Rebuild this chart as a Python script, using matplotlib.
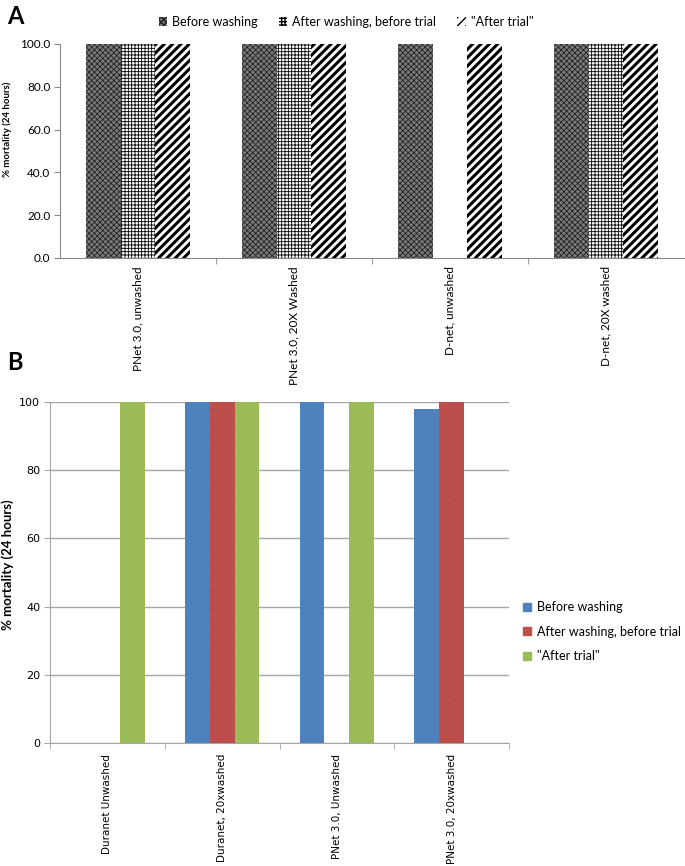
import matplotlib
matplotlib.use("Agg")
import matplotlib.pyplot as plt
import numpy as np

# panel A data
cats_a = ["PNet 3.0, unwashed", "PNet 3.0, 20X Washed", "D-net, unwashed", "D-net, 20X washed"]
before_a = [100, 100, 100, 100]
after_wash_a = [100, 100, 0, 100]
after_trial_a = [100, 100, 100, 100]

# panel B data
cats_b = ["Duranet Unwashed", "Duranet, 20xwashed", "PNet 3.0, Unwashed", "PNet 3.0, 20xwashed"]
before_b = [0, 100, 100, 98]
after_wash_b = [0, 100, 0, 100]
after_trial_b = [100, 100, 100, 0]

series_names = ["Before washing", "After washing, before trial", "\"After trial\""]

fig = plt.figure(figsize=(6.85, 8.66), dpi=100)
W, H = 685, 866

def px_axes(left, top, right, bottom):
    return fig.add_axes([left / W, 1 - bottom / H, (right - left) / W, (bottom - top) / H])

# ---------------- Panel A ----------------
axA = px_axes(60, 44, 684, 258)
x = np.arange(len(cats_a))
bw = 0.222
styles_a = [
    dict(facecolor="#7a7a7a", edgecolor="#222222", hatch="xxxxxx", lw=0),
    dict(facecolor="white", edgecolor="black", hatch="+++++", lw=0),
    dict(facecolor="white", edgecolor="black", hatch="////", lw=0),
]
hatch_lw = [0.6, 0.6, 2.2]
handles_a = []
for i, (vals, st) in enumerate(zip([before_a, after_wash_a, after_trial_a], styles_a)):
    bars = axA.bar(x + (i - 1) * bw, vals, bw, label=series_names[i], **st)
    for b in bars:
        if hasattr(b, "set_hatch_linewidth"):
            b.set_hatch_linewidth(hatch_lw[i])
    handles_a.append(bars)

axA.set_xlim(-0.5, 3.5)
axA.set_ylim(0, 100)
axA.set_yticks(np.arange(0, 101, 20))
axA.set_yticklabels(["%.1f" % v for v in np.arange(0, 101, 20)], fontfamily="Lato", fontsize=8.5)
axA.set_xticks(x)
axA.set_xticklabels(cats_a, rotation=90, fontfamily="Lato", fontsize=8.5, va="top")
axA.set_xticks([0.5, 1.5, 2.5], minor=True)
axA.tick_params(axis="x", which="major", length=0, pad=6)
axA.tick_params(axis="x", which="minor", length=4, color="#888888", direction="out")
axA.tick_params(axis="y", length=4, color="#888888", pad=3)
for s in ["top", "right"]:
    axA.spines[s].set_visible(False)
for s in ["left", "bottom"]:
    axA.spines[s].set_color("#888888")
fig.text(7 / W, 1 - 129 / H, "% mortality (24 hours)", rotation=90, fontfamily="Lato",
         fontweight="bold", fontsize=6.9, ha="center", va="center")

fig.legend(handles_a, series_names, loc="center", bbox_to_anchor=(0.505, 1 - 22 / H), ncol=3,
           frameon=False, prop={"family": "Lato", "size": 9}, handlelength=0.7, handleheight=0.7,
           handletextpad=0.4, columnspacing=1.65)
fig.text(7 / W, 1 - 17 / H, "A", fontsize=17, fontweight="bold", va="center", ha="left", fontfamily="Lato")

# ---------------- Panel B ----------------
axB = px_axes(50, 402, 509, 743)
xb = np.arange(len(cats_b))
bwb = 0.217
colors_b = ["#4F81BD", "#C0504D", "#9BBB59"]
for i, vals in enumerate([before_b, after_wash_b, after_trial_b]):
    kw = dict(color=colors_b[i], lw=0)
    if i == 1:
        kw = dict(facecolor=colors_b[i], edgecolor="#a9443f", hatch="......", lw=0)
    bars = axB.bar(xb + (i - 1) * bwb, vals, bwb, label=series_names[i], zorder=3, **kw)
    for b in bars:
        if hasattr(b, "set_hatch_linewidth"):
            b.set_hatch_linewidth(0.4)

axB.set_xlim(-0.5, 3.5)
axB.set_ylim(0, 100)
axB.set_yticks(np.arange(0, 101, 20))
axB.set_yticklabels([str(v) for v in np.arange(0, 101, 20)], fontfamily="DejaVu Sans", fontsize=8)
axB.yaxis.grid(True, color="#a6a6a6", lw=1, zorder=0)
axB.set_xticks(xb)
axB.set_xticklabels(cats_b, rotation=90, fontfamily="DejaVu Sans", fontsize=7.5, va="top")
axB.set_xticks([-0.5, 0.5, 1.5, 2.5, 3.5], minor=True)
axB.tick_params(axis="x", which="major", length=0, pad=8)
axB.tick_params(axis="x", which="minor", length=4, color="#a6a6a6", direction="out")
axB.tick_params(axis="y", length=4, color="#a6a6a6", pad=3)
for s in ["top", "right"]:
    axB.spines[s].set_visible(False)
for s in ["left", "bottom"]:
    axB.spines[s].set_color("#a6a6a6")
fig.text(8 / W, 1 - 565 / H, "% mortality (24 hours)", rotation=90, fontfamily="Lato",
         fontweight="bold", fontsize=9.5, ha="center", va="center")

leg_handles = [plt.Rectangle((0, 0), 1, 1, color=c) for c in colors_b]
fig.legend(leg_handles, series_names, loc="upper left", bbox_to_anchor=(523 / W, 1 - 601 / H),
           frameon=False, prop={"family": "Lato", "size": 9}, handlelength=0.6, handleheight=0.6,
           handletextpad=0.5, labelspacing=1.0, borderpad=0, borderaxespad=0)
fig.text(7 / W, 1 - 363 / H, "B", fontsize=17, fontweight="bold", va="center", ha="left", fontfamily="Lato")

fig.savefig("out.png", dpi=100)
